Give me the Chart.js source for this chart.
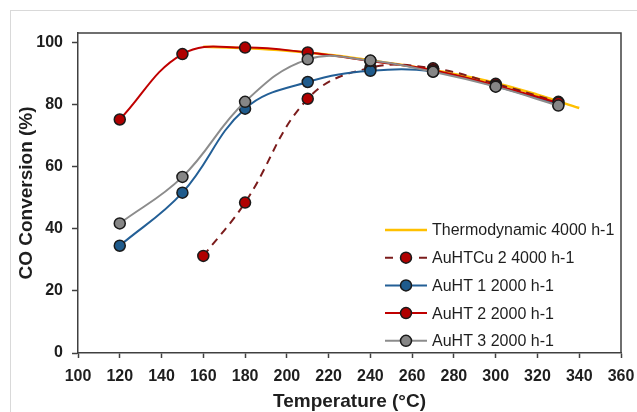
<!DOCTYPE html>
<html>
<head>
<meta charset="utf-8">
<script src="https://cdn.jsdelivr.net/npm/chart.js@4.4.0/dist/chart.umd.min.js"></script>
<style>
  html, body { margin: 0; padding: 0; background: #fff; }
  #wrap { width: 637px; height: 412px; position: relative; }
</style>
</head>
<body>
<div id="wrap"><canvas id="grafikon"></canvas></div>
<script>
// Adatok
const homersekletek = [120, 150, 180, 210, 240, 270, 300, 330];
const termoX = [160, 180, 200, 220, 240, 260, 280, 300, 320, 340];
const termoY = [98.8, 98.3, 97.5, 96.2, 94.4, 92.4, 90.0, 87.1, 83.3, 79.0];
const cuX = [160, 180, 210, 240, 270, 300, 330];
const cuY = [31.3, 48.5, 82.0, 92.0, 91.8, 86.8, 81.0];
const auht1 = [34.6, 51.7, 78.8, 87.4, 91.0, 90.8, 86.0, 80.2];
const auht2 = [75.3, 96.4, 98.5, 96.9, 94.2, 91.2, 86.3, 80.7];
const auht3 = [41.8, 56.8, 81.0, 94.7, 94.3, 90.7, 85.9, 79.8];
const sorozatNevek = ['Thermodynamic 4000 h-1', 'AuHTCu 2 4000 h-1', 'AuHT 1 2000 h-1', 'AuHT 2 2000 h-1', 'AuHT 3 2000 h-1'];
const yCimkek = [0, 20, 40, 60, 80, 100];
const xTartomany = { min: 100, max: 360, step: 20 };
const yTartomany = { min: 0, max: 103.2 };

const betu = 'Liberation Sans, Arial, sans-serif';
const szoveg = '#1e1e1e';
const tengely = '#404040';

function pontok(xs, ys) {
    return xs.map((x, i) => ({ x: x, y: ys[i] }));
}

// Kulso keret + feher hatter
const hatterPlugin = {
    id: 'hatter',
    beforeDraw(chart) {
        const c = chart.ctx;
        c.save();
        c.fillStyle = '#fff';
        c.fillRect(0, 0, chart.width, chart.height);
        c.strokeStyle = '#d9d9d9';
        c.lineWidth = 1;
        c.strokeRect(10.5, 10.5, 700, 500);
        c.restore();
    }
};

// Plot terulet kerete + sajat jelmagyarazat
const keretPlugin = {
    id: 'keret',
    afterDraw(chart) {
        const c = chart.ctx;
        const a = chart.chartArea;
        c.save();
        c.strokeStyle = tengely;
        c.lineWidth = 1.5;
        c.beginPath();
        c.moveTo(a.left, a.top);
        c.lineTo(a.right, a.top);
        c.lineTo(a.right, a.bottom);
        c.stroke();

        // jelmagyarazat
        const x0 = 385, x1 = 427, xm = 406, tx = 432;
        const y0 = 230, dy = 27.7;
        c.font = '16px ' + betu;
        c.textBaseline = 'middle';
        c.textAlign = 'left';
        chart.data.datasets.forEach((ds, i) => {
            const y = y0 + i * dy;
            c.strokeStyle = ds.borderColor;
            c.lineWidth = ds.borderWidth;
            c.setLineDash([]);
            c.beginPath();
            if (ds.borderDash) {
                c.moveTo(x0, y); c.lineTo(x0 + 8, y);
                c.moveTo(x1 - 8, y); c.lineTo(x1, y);
            } else {
                c.moveTo(x0, y); c.lineTo(x1, y);
            }
            c.stroke();
            if (ds.pointRadius > 0) {
                c.beginPath();
                c.arc(xm, y, ds.pointRadius, 0, Math.PI * 2);
                c.fillStyle = ds.pointBackgroundColor;
                c.fill();
                c.lineWidth = ds.pointBorderWidth;
                c.strokeStyle = ds.pointBorderColor;
                c.stroke();
            }
            c.fillStyle = szoveg;
            c.fillText(ds.label, tx, y + 1);
        });
        c.restore();
    }
};

function sorozat(nev, adat, vonal, pontSzin, sorrend, extra) {
    return Object.assign({
        label: nev,
        data: adat,
        borderColor: vonal,
        borderWidth: 2,
        pointRadius: 5.5,
        pointBackgroundColor: pontSzin,
        pointBorderColor: '#1a1a1a',
        pointBorderWidth: 1.5,
        tension: 0.4,
        fill: false,
        order: sorrend
    }, extra || {});
}

const adatkeszletek = [
    sorozat(sorozatNevek[0], pontok(termoX, termoY), '#ffc000', '#ffc000', 5, { pointRadius: 0, borderWidth: 2.5 }),
    sorozat(sorozatNevek[1], pontok(cuX, cuY), '#7b1c1c', '#b00000', 4, { borderDash: [8, 6] }),
    sorozat(sorozatNevek[2], pontok(homersekletek, auht1), '#235f96', '#1f5b8c', 3),
    sorozat(sorozatNevek[3], pontok(homersekletek, auht2), '#c00000', '#b00000', 2),
    sorozat(sorozatNevek[4], pontok(homersekletek, auht3), '#8c8c8c', '#868686', 1)
];

new Chart(document.getElementById('grafikon'), {
    type: 'line',
    data: { datasets: adatkeszletek },
    options: {
        responsive: true,
        maintainAspectRatio: false,
        animation: false,
        layout: { padding: { top: 33, right: 16, left: 0, bottom: 0 } },
        plugins: {
            legend: { display: false },
            tooltip: { enabled: false }
        },
        scales: {
            x: {
                type: 'linear',
                min: xTartomany.min,
                max: xTartomany.max,
                ticks: { stepSize: xTartomany.step, font: { family: betu, size: 16, weight: 'bold' }, color: szoveg, padding: 9, maxRotation: 0 },
                grid: { drawOnChartArea: false, drawTicks: true, tickLength: 5, color: tengely, tickWidth: 1.5 },
                border: { color: tengely, width: 1.5 },
                title: { display: true, text: 'Temperature (°C)', font: { family: betu, size: 19, weight: 'bold' }, color: szoveg, padding: { top: 0, bottom: -1 } },
                afterFit(s) { s.height = 59; s.paddingLeft = 0; s.paddingRight = 0; }
            },
            y: {
                min: yTartomany.min,
                max: yTartomany.max,
                ticks: { font: { family: betu, size: 16, weight: 'bold' }, color: szoveg, padding: 9 },
                grid: { drawOnChartArea: false, drawTicks: true, tickLength: 6, color: tengely, tickWidth: 1.5 },
                border: { color: tengely, width: 1.5 },
                title: { display: true, text: 'CO Conversion (%)', font: { family: betu, size: 19, weight: 'bold' }, color: szoveg, padding: { top: 15, bottom: 0 } },
                afterBuildTicks(s) { s.ticks = yCimkek.map(v => ({ value: v })); },
                afterFit(s) { s.width = 78; s.paddingTop = 0; s.paddingBottom = 0; }
            }
        }
    },
    plugins: [hatterPlugin, keretPlugin]
});
</script>
</body>
</html>
